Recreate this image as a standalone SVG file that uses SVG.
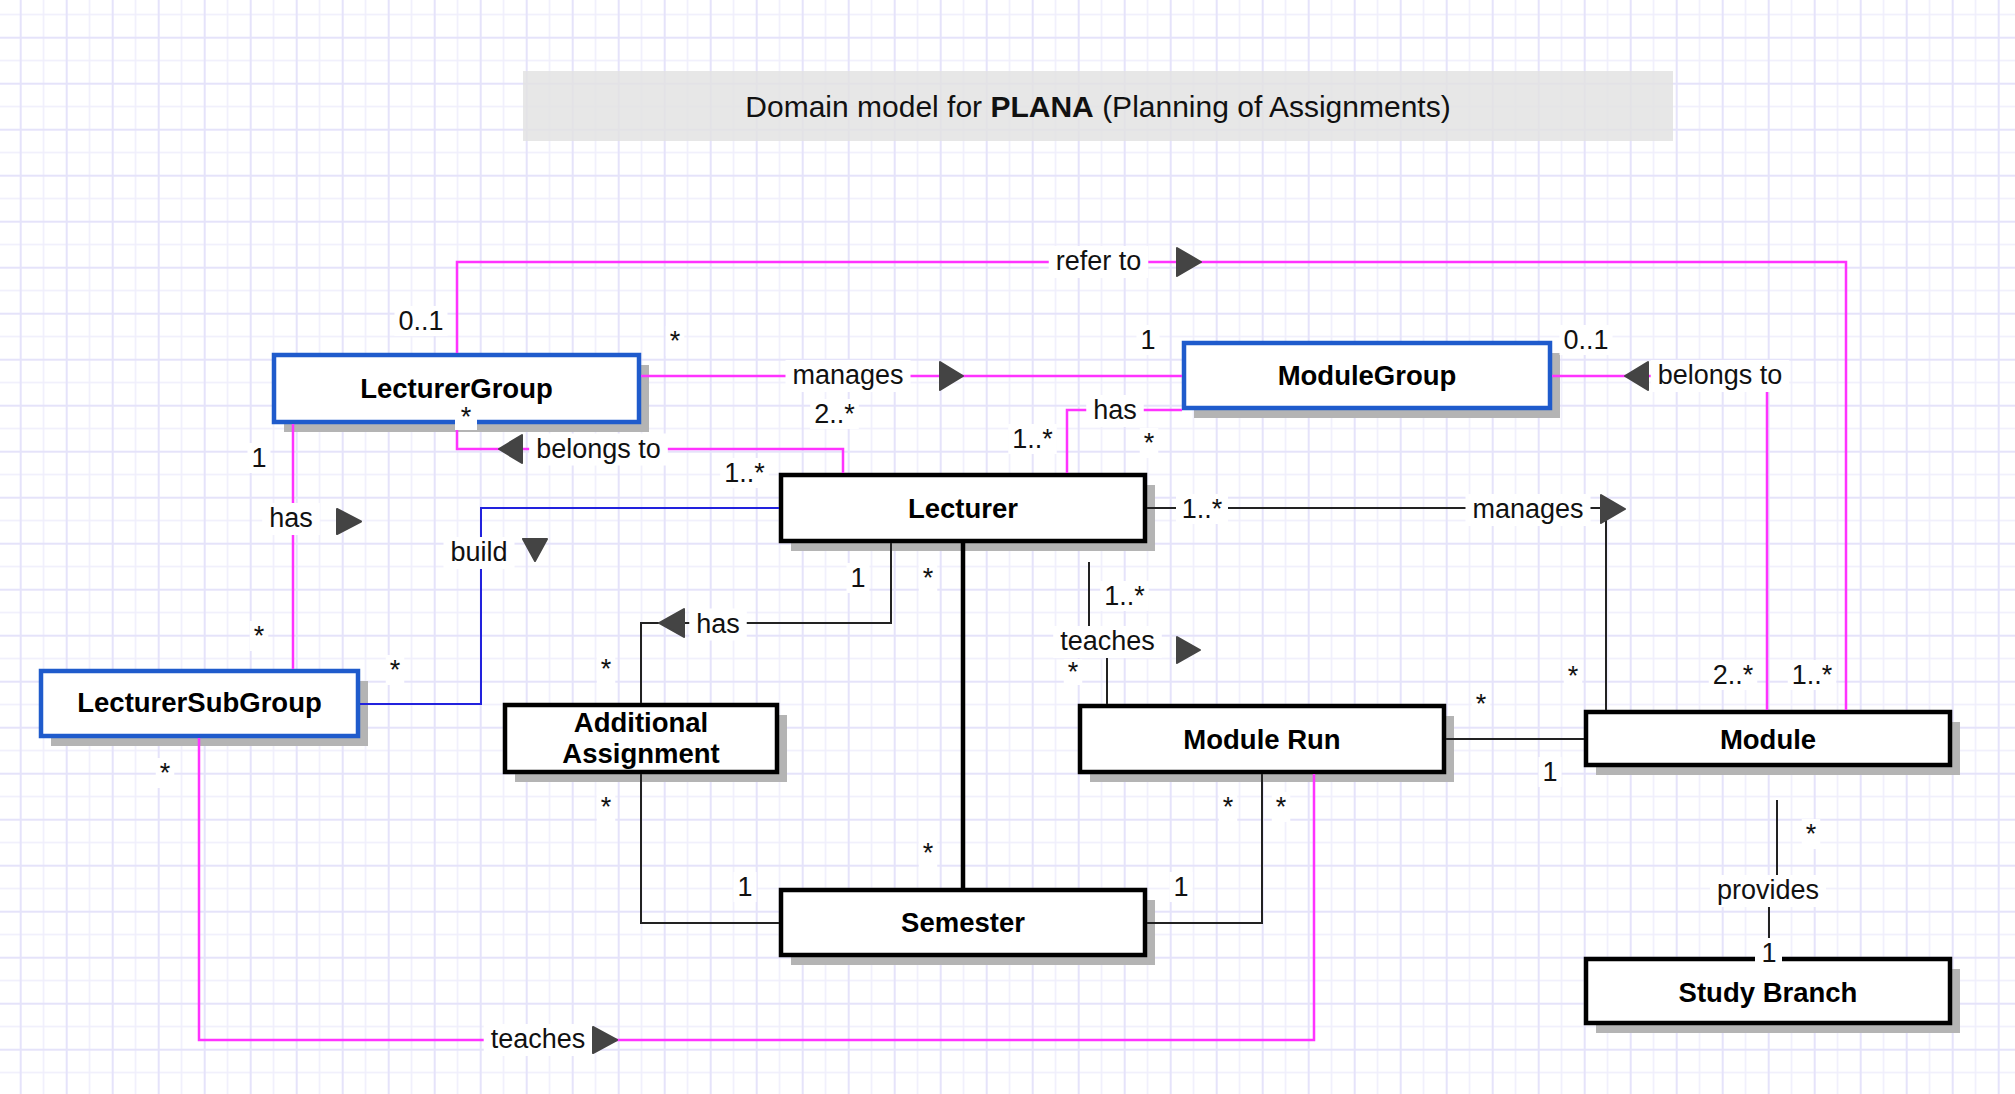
<svg xmlns="http://www.w3.org/2000/svg" width="2015" height="1094" viewBox="0 0 2015 1094">
<defs>
<pattern id="grid" patternUnits="userSpaceOnUse" x="19.7" y="36.7" width="46" height="46">
<rect x="0" y="0" width="46" height="46" fill="#ffffff"/>
<rect x="23" y="0" width="1.5" height="46" fill="#efeefc"/>
<rect x="0" y="23" width="46" height="1.5" fill="#efeefc"/>
<rect x="0" y="0" width="2" height="46" fill="#e5e3fa"/>
<rect x="0" y="0" width="46" height="2" fill="#e5e3fa"/>
</pattern>
<style>
.sh{fill:#b4b4b4}
.bb{fill:#fff;stroke:#1f5bcc;stroke-width:4.5}
.bk{fill:#fff;stroke:#000;stroke-width:4.5}
.nt{font-family:"Liberation Sans",Arial,sans-serif;font-weight:bold;font-size:27.5px;text-anchor:middle;fill:#000}
.lt{font-family:"Liberation Sans",Arial,sans-serif;font-size:27px;text-anchor:middle;fill:#111}
.lb{fill:#fff}
.pk{fill:none;stroke:#ff33ff;stroke-width:2.5}
.bl{fill:none;stroke:#2222dd;stroke-width:2}
.ln{fill:none;stroke:#222;stroke-width:2}
.th{fill:none;stroke:#000;stroke-width:4.5}
.ar{fill:#444;stroke:#444;stroke-width:2;stroke-linejoin:round}
</style>
</defs>
<rect x="0" y="0" width="2015" height="1094" fill="url(#grid)"/>

<g id="title">
<rect x="523" y="71" width="1150" height="70" fill="#e2e2e2" fill-opacity="0.82"/>
<text x="1098" y="117" font-family="'Liberation Sans',Arial,sans-serif" font-size="30" text-anchor="middle" fill="#111">Domain model for <tspan font-weight="bold">PLANA</tspan> (Planning of Assignments)</text>
</g>

<g id="LecturerGroup">
<rect class="sh" x="284" y="365" width="365" height="67"/>
<rect class="bb" x="274" y="355" width="365" height="67"/>
<text class="nt" x="456.5" y="398">LecturerGroup</text>
</g>
<g id="ModuleGroup">
<rect class="sh" x="1194" y="353" width="366" height="65"/>
<rect class="bb" x="1184" y="343" width="366" height="65"/>
<text class="nt" x="1367" y="384.5">ModuleGroup</text>
</g>
<g id="Lecturer">
<rect class="sh" x="791" y="485" width="364" height="66"/>
<rect class="bk" x="781" y="475" width="364" height="66"/>
<text class="nt" x="963" y="517.5">Lecturer</text>
</g>
<g id="LecturerSubGroup">
<rect class="sh" x="51" y="681" width="317" height="65"/>
<rect class="bb" x="41" y="671" width="317" height="65"/>
<text class="nt" x="199.5" y="712">LecturerSubGroup</text>
</g>
<g id="AdditionalAssignment">
<rect class="sh" x="515" y="715" width="272" height="67"/>
<rect class="bk" x="505" y="705" width="272" height="67"/>
<text class="nt" x="641" y="732">Additional</text>
<text class="nt" x="641" y="763">Assignment</text>
</g>
<g id="Semester">
<rect class="sh" x="791" y="900" width="364" height="65"/>
<rect class="bk" x="781" y="890" width="364" height="65"/>
<text class="nt" x="963" y="932">Semester</text>
</g>
<g id="ModuleRun">
<rect class="sh" x="1090" y="716" width="364" height="66"/>
<rect class="bk" x="1080" y="706" width="364" height="66"/>
<text class="nt" x="1262" y="748.5">Module Run</text>
</g>
<g id="Module">
<rect class="sh" x="1596" y="722" width="364" height="53"/>
<rect class="bk" x="1586" y="712" width="364" height="53"/>
<text class="nt" x="1768" y="748.5">Module</text>
</g>
<g id="StudyBranch">
<rect class="sh" x="1596" y="969" width="364" height="64"/>
<rect class="bk" x="1586" y="959" width="364" height="64"/>
<text class="nt" x="1768" y="1001.5">Study Branch</text>
</g>

<g id="connectors">
<path class="pk" d="M457,353 V262 H1846 V710"/>
<path class="pk" d="M641,376 H1182"/>
<path class="pk" d="M1067,473 V410 H1182"/>
<path class="pk" d="M843,473 V449 H457 V424"/>
<path class="pk" d="M293,424 V669"/>
<path class="pk" d="M199,738 V1040 H1314 V774"/>
<path class="pk" d="M1552,376 H1767 V710"/>
<path class="bl" d="M360,704 H481 V508 H779"/>
<path class="ln" d="M1147,508 H1606 V710"/>
<path class="ln" d="M1089,562 V641 H1107 V704"/>
<path class="ln" d="M891,543 V623 H641 V703"/>
<path class="ln" d="M641,774 V923 H779"/>
<path class="ln" d="M1262,774 V923 H1147"/>
<path class="ln" d="M1446,739 H1584"/>
<path class="ln" d="M1777,800 V893 H1769 V957"/>
<path class="th" d="M963,543 V888"/>

<g id="labels">
<rect class="lb" x="1048.75" y="246" width="99.5" height="32"/><text class="lt" x="1098.5" y="270">refer to</text>
<rect class="lb" x="785.5" y="360" width="125" height="32"/><text class="lt" x="848" y="384">manages</text>
<rect class="lb" x="1086.25" y="395" width="57.5" height="32"/><text class="lt" x="1115" y="419">has</text>
<rect class="lb" x="529.2" y="433.5" width="138.6" height="32"/><text class="lt" x="598.5" y="457.5">belongs to</text>
<rect class="lb" x="262.25" y="503" width="57.5" height="32"/><text class="lt" x="291" y="527">has</text>
<rect class="lb" x="443.5" y="537" width="71" height="32"/><text class="lt" x="479" y="561">build</text>
<rect class="lb" x="1465.5" y="494" width="125" height="32"/><text class="lt" x="1528" y="518">manages</text>
<rect class="lb" x="689.25" y="608.5" width="57.5" height="32"/><text class="lt" x="718" y="632.5">has</text>
<rect class="lb" x="1053.2" y="626" width="108.6" height="32"/><text class="lt" x="1107.5" y="650">teaches</text>
<rect class="lb" x="483.7" y="1024" width="108.6" height="32"/><text class="lt" x="538" y="1048">teaches</text>
<rect class="lb" x="1650.7" y="360" width="138.6" height="32"/><text class="lt" x="1720" y="384">belongs to</text>
<rect class="lb" x="1710" y="875" width="116" height="32"/><text class="lt" x="1768" y="899">provides</text>
</g>
<g id="arrows">
<polygon class="ar" points="1177,248 1201,262 1177,276"/>
<polygon class="ar" points="940,362 963,376 940,390"/>
<polygon class="ar" points="522,435 499,449 522,463"/>
<polygon class="ar" points="337,509 361,521.5 337,534"/>
<polygon class="ar" points="523,539 547,539 535,561"/>
<polygon class="ar" points="1601,495 1625,509 1601,523"/>
<polygon class="ar" points="684,609 659,623 684,637"/>
<polygon class="ar" points="1177,637 1200,650 1177,663"/>
<polygon class="ar" points="593,1027 617,1040 593,1053"/>
<polygon class="ar" points="1648,362 1625,376 1648,390"/>
</g>
<g id="multiplicities">
<rect class="lb" x="394.5" y="306" width="53" height="30"/><text class="lt" x="421" y="330">0..1</text>
<rect class="lb" x="665.75" y="326" width="18.5" height="30"/><text class="lt" x="675" y="350">*</text>
<rect class="lb" x="1136.5" y="325" width="23" height="30"/><text class="lt" x="1148" y="349">1</text>
<rect class="lb" x="1559.5" y="325" width="53" height="30"/><text class="lt" x="1586" y="349">0..1</text>
<rect class="lb" x="455" y="400" width="22" height="30"/><text class="lt" x="466" y="426">*</text>
<rect class="lb" x="810.25" y="399" width="48.5" height="30"/><text class="lt" x="834.5" y="423">2..*</text>
<rect class="lb" x="720.25" y="458" width="48.5" height="30"/><text class="lt" x="744.5" y="482">1..*</text>
<rect class="lb" x="1008.25" y="424" width="48.5" height="30"/><text class="lt" x="1032.5" y="448">1..*</text>
<rect class="lb" x="1139.75" y="428" width="18.5" height="30"/><text class="lt" x="1149" y="452">*</text>
<rect class="lb" x="247.5" y="443" width="23" height="30"/><text class="lt" x="259" y="467">1</text>
<rect class="lb" x="249.75" y="621" width="18.5" height="30"/><text class="lt" x="259" y="645">*</text>
<rect class="lb" x="385.75" y="655" width="18.5" height="30"/><text class="lt" x="395" y="679">*</text>
<rect class="lb" x="1176" y="494" width="52" height="30"/><text class="lt" x="1202" y="518">1..*</text>
<rect class="lb" x="1563.75" y="661" width="18.5" height="30"/><text class="lt" x="1573" y="685">*</text>
<rect class="lb" x="1708.75" y="660" width="48.5" height="30"/><text class="lt" x="1733" y="684">2..*</text>
<rect class="lb" x="1787.75" y="660" width="48.5" height="30"/><text class="lt" x="1812" y="684">1..*</text>
<rect class="lb" x="1471.75" y="689" width="18.5" height="30"/><text class="lt" x="1481" y="713">*</text>
<rect class="lb" x="1538.5" y="757" width="23" height="30"/><text class="lt" x="1550" y="781">1</text>
<rect class="lb" x="846.5" y="563" width="23" height="30"/><text class="lt" x="858" y="587">1</text>
<rect class="lb" x="918.75" y="563" width="18.5" height="30"/><text class="lt" x="928" y="587">*</text>
<rect class="lb" x="596.75" y="654" width="18.5" height="30"/><text class="lt" x="606" y="678">*</text>
<rect class="lb" x="596.75" y="792" width="18.5" height="30"/><text class="lt" x="606" y="816">*</text>
<rect class="lb" x="733.5" y="872" width="23" height="30"/><text class="lt" x="745" y="896">1</text>
<rect class="lb" x="918.75" y="838" width="18.5" height="30"/><text class="lt" x="928" y="862">*</text>
<rect class="lb" x="155.75" y="758" width="18.5" height="30"/><text class="lt" x="165" y="782">*</text>
<rect class="lb" x="1218.75" y="792" width="18.5" height="30"/><text class="lt" x="1228" y="816">*</text>
<rect class="lb" x="1271.75" y="792" width="18.5" height="30"/><text class="lt" x="1281" y="816">*</text>
<rect class="lb" x="1169.5" y="872" width="23" height="30"/><text class="lt" x="1181" y="896">1</text>
<rect class="lb" x="1801.75" y="819" width="18.5" height="30"/><text class="lt" x="1811" y="843">*</text>
<rect class="lb" x="1755" y="938" width="27" height="27"/><text class="lt" x="1769" y="962">1</text>
<rect class="lb" x="1100.25" y="581" width="48.5" height="30"/><text class="lt" x="1124.5" y="605">1..*</text>
<rect class="lb" x="1063.75" y="659" width="18.5" height="26"/><text class="lt" x="1073" y="681">*</text>
</g>
</g>
</svg>
